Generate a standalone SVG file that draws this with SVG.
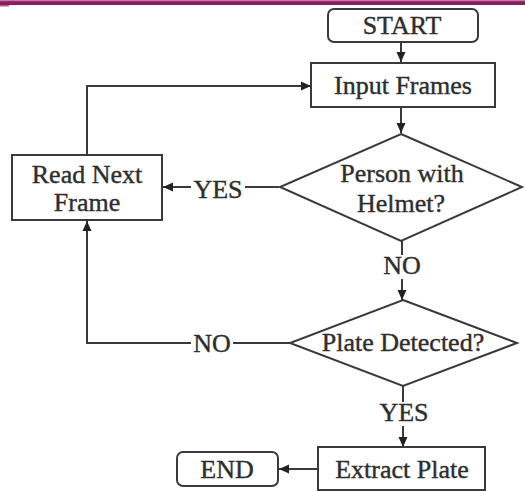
<svg xmlns="http://www.w3.org/2000/svg" width="525" height="491" viewBox="0 0 525 491">
<style>
.box{fill:#fff;stroke:#3a3a3a;stroke-width:2}
.t{font-family:"Liberation Serif","Times New Roman",serif;font-size:26px;fill:#2e2e2e;stroke:#2e2e2e;stroke-width:0.4;text-anchor:middle}
.c{fill:none;stroke:#3a3a3a;stroke-width:2}
</style>
<defs>
<marker id="ah" markerUnits="userSpaceOnUse" markerWidth="10" markerHeight="10" viewBox="0 0 10 10" refX="10" refY="5" orient="auto">
<path d="M0,0.5 L10,5 L0,9.5 Z" fill="#222"/>
</marker>
</defs>
<rect x="0" y="0" width="525" height="5" fill="#8c1d5f"/>
<rect x="0" y="0" width="525" height="1.2" fill="#c07aa3"/>
<rect x="0" y="5" width="9" height="1.5" fill="#b9599a"/>
<g id="connectors">
<path class="c" d="M401,42 V62" marker-end="url(#ah)"/>
<path class="c" d="M401,107 V133" marker-end="url(#ah)"/>
<path class="c" d="M279,187 H245"/>
<path class="c" d="M191,187 H163" marker-end="url(#ah)"/>
<path class="c" d="M87,155 V86 H311" marker-end="url(#ah)"/>
<path class="c" d="M402,241 V255"/>
<path class="c" d="M402,279 V300" marker-end="url(#ah)"/>
<path class="c" d="M290,343 H233"/>
<path class="c" d="M191,343 H87 V221" marker-end="url(#ah)"/>
<path class="c" d="M403,386 V402"/>
<path class="c" d="M403,426 V447" marker-end="url(#ah)"/>
<path class="c" d="M318,469 H279" marker-end="url(#ah)"/>
<text class="t" x="218" y="198">YES</text>
<text class="t" x="402" y="274">NO</text>
<text class="t" x="212" y="352">NO</text>
<text class="t" x="404" y="421">YES</text>
</g>
<g id="start">
<rect class="box" x="328" y="9" width="150" height="33" rx="6"/>
<text class="t" x="402" y="34">START</text>
</g>
<g id="input">
<rect class="box" x="311" y="63" width="184" height="44"/>
<text class="t" x="403" y="94">Input Frames</text>
</g>
<g id="read">
<rect class="box" x="12" y="155" width="150" height="65"/>
<text class="t" x="87" y="183">Read Next</text>
<text class="t" x="87" y="211">Frame</text>
</g>
<g id="helmet">
<polygon class="box" points="401,134 522,187 401,241 280,187"/>
<text class="t" x="402" y="182">Person with</text>
<text class="t" x="401" y="212">Helmet?</text>
</g>
<g id="plate">
<polygon class="box" points="403,300 517,343 403,386 290,343"/>
<text class="t" x="403" y="351">Plate Detected?</text>
</g>
<g id="extract">
<rect class="box" x="318" y="447" width="167" height="43"/>
<text class="t" x="402" y="478">Extract Plate</text>
</g>
<g id="end">
<rect class="box" x="177" y="452" width="101" height="34" rx="6"/>
<text class="t" x="227" y="478">END</text>
</g>
</svg>
